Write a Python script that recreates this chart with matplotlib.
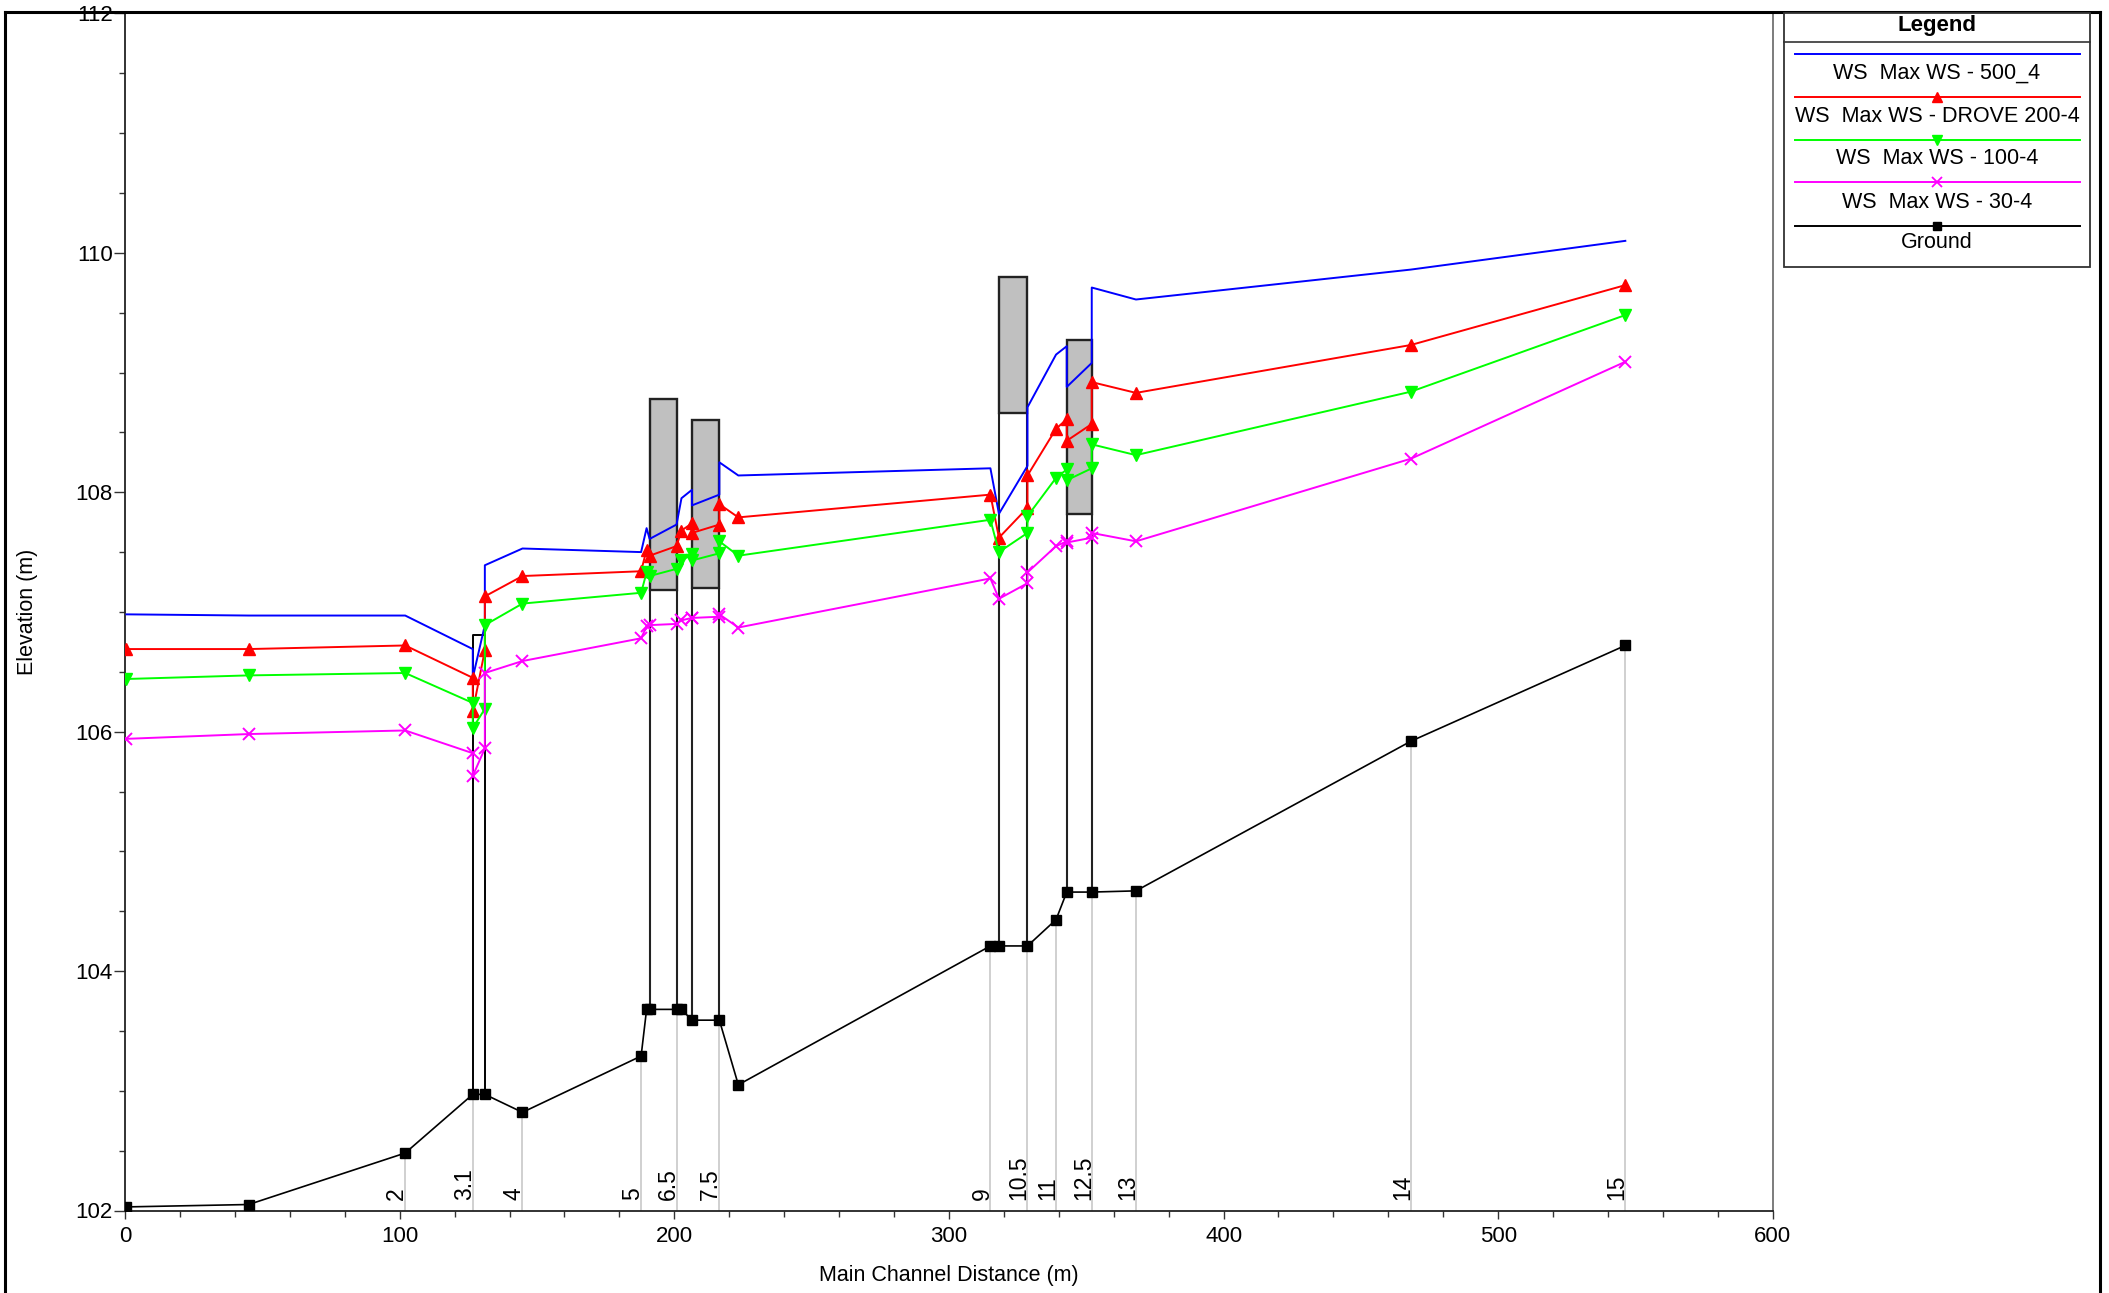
import matplotlib
matplotlib.use("Agg")
import matplotlib.pyplot as plt
import numpy as np
from matplotlib.patches import Rectangle
from matplotlib.lines import Line2D
import matplotlib.transforms as mtransforms

plt.rcParams['font.family'] = ['Liberation Sans', 'DejaVu Sans']

# ---------------- data ----------------
ws_x = [0.5, 45, 102, 126.6, 126.6, 131.0, 131.0, 144.7, 187.9, 189.9, 191.0, 200.8,
        202.6, 206.4, 206.4, 216.4, 216.4, 223.3, 315.1, 318.2, 328.6, 328.6, 339.0,
        342.9, 342.9, 352.0, 352.0, 368.1, 468.2, 546.3]

ws_500 = [106.98, 106.97, 106.97, 106.69, 106.45, 106.89, 107.39, 107.53, 107.50, 107.70,
          107.61, 107.73, 107.95, 108.02, 107.89, 107.98, 108.25, 108.14, 108.20, 107.82,
          108.22, 108.71, 109.15, 109.22, 108.88, 109.08, 109.71, 109.61, 109.86, 110.10]

ws_200 = [106.69, 106.69, 106.72, 106.45, 106.17, 106.68, 107.13, 107.30, 107.34, 107.52,
          107.47, 107.55, 107.68, 107.74, 107.66, 107.73, 107.90, 107.79, 107.98, 107.62,
          107.87, 108.14, 108.53, 108.61, 108.43, 108.57, 108.92, 108.83, 109.23, 109.73]

ws_100 = [106.44, 106.47, 106.49, 106.24, 106.03, 106.19, 106.89, 107.07, 107.16, 107.33,
          107.30, 107.36, 107.43, 107.48, 107.43, 107.49, 107.59, 107.47, 107.77, 107.50,
          107.66, 107.80, 108.12, 108.19, 108.10, 108.20, 108.40, 108.31, 108.84, 109.48]

ws_30 = [105.94, 105.98, 106.01, 105.82, 105.63, 105.86, 106.49, 106.59, 106.78, 106.88,
         106.89, 106.90, 106.93, 106.95, 106.95, 106.96, 106.98, 106.87, 107.28, 107.11,
         107.24, 107.33, 107.55, 107.59, 107.58, 107.62, 107.66, 107.59, 108.28, 109.09]

ground_x = [0.5, 45, 102, 126.6, 131.0, 144.7, 187.9, 189.9, 191.0, 200.8, 202.6, 206.4,
            216.4, 223.3, 315.1, 318.2, 328.6, 339.0, 342.9, 352.0, 368.1, 468.2, 546.3]
ground_y = [102.03, 102.05, 102.48, 102.97, 102.97, 102.82, 103.29, 103.68, 103.68, 103.68,
            103.68, 103.59, 103.59, 103.05, 104.21, 104.21, 104.21, 104.43, 104.66, 104.66,
            104.67, 105.92, 106.72]

section_labels = ['2', '3.1', '4', '5', '6.5', '7.5', '9', '10.5', '11', '12.5', '13', '14', '15']
section_x = [102, 126.6, 144.7, 187.9, 200.8, 216.4, 315.1, 328.6, 339.0, 352.0, 368.1, 468.2, 546.3]

culvert_x = [126.6, 131.0]
culvert_top = 106.81

bridge_left = [191.0, 206.4, 318.2, 342.9]
bridge_right = [200.8, 216.4, 328.6, 352.0]
deck_low = [107.18, 107.20, 108.66, 107.82]
deck_high = [108.78, 108.60, 109.80, 109.27]

legend_labels = ['WS  Max WS - 500_4', 'WS  Max WS - DROVE 200-4', 'WS  Max WS - 100-4',
                 'WS  Max WS - 30-4', 'Ground']

# ---------------- figure ----------------
W, H = 2109, 1293
fig = plt.figure(figsize=(W / 100, H / 100), dpi=100)
ax = fig.add_axes([125.1 / W, 1 - 1210.5 / H, (1772.8 - 125.1) / W, (1210.5 - 13.4) / H])

ax.set_xlim(0, 600)
ax.set_ylim(102, 112)

FS_TICK = 16
FS_LAB = 15.5

# section lines (grey) and labels
gx = np.array(ground_x)
gy = np.array(ground_y)
sec_ground = np.interp(section_x, gx, gy)
ax.vlines(section_x, 102, sec_ground, colors='#c8c8c8', lw=1.2, zorder=1)
lab_tr = mtransforms.offset_copy(ax.transData, fig=fig, x=3, y=10, units='dots')
for sx, lab in zip(section_x, section_labels):
    ax.text(sx, 102, lab, rotation=90, ha='right', va='bottom', fontsize=16.5,
            transform=lab_tr, zorder=5)

# culvert (open rectangle)
cg = np.interp(culvert_x, gx, gy)
ax.plot([culvert_x[0], culvert_x[0], culvert_x[1], culvert_x[1]],
        [cg[0], culvert_top, culvert_top, cg[1]], color='black', lw=1.4, zorder=2)

# bridges
for bl, br, lo, hi in zip(bridge_left, bridge_right, deck_low, deck_high):
    ax.add_patch(Rectangle((bl, lo), br - bl, hi - lo, facecolor='#c0c0c0',
                           edgecolor='#222222', lw=1.7, zorder=2))
    g = np.interp([bl, br], gx, gy)
    ax.vlines([bl, br], g, lo, colors='#222222', lw=1.5, zorder=2)

# ground
ax.plot(ground_x, ground_y, color='black', lw=1.2, marker='s', ms=6.5, zorder=4)

# water surfaces
ax.plot(ws_x, ws_500, color='#0000ff', lw=1.4, zorder=5)
ax.plot(ws_x, ws_200, color='#ff0000', lw=1.4, marker='^', ms=8.5, zorder=5)
ax.plot(ws_x, ws_100, color='#00ff00', lw=1.4, marker='v', ms=8.5, zorder=5)
ax.plot(ws_x, ws_30, color='#ff00ff', lw=1.4, marker='x', ms=8, mew=1.4, zorder=5)

# ticks
ax.set_xticks(np.arange(0, 601, 100))
ax.set_xticks(np.arange(0, 601, 20), minor=True)
ax.set_yticks(np.arange(102, 112.1, 2))
ax.set_yticks(np.arange(102, 112.1, 0.5), minor=True)
ax.set_yticklabels([str(v) for v in range(102, 113, 2)])
ax.tick_params(axis='both', which='major', labelsize=FS_TICK, direction='out', width=1,
               color='#333333')
ax.tick_params(axis='x', which='major', length=6, pad=5)
ax.tick_params(axis='x', which='minor', length=4, width=1, color='#333333')
ax.tick_params(axis='y', which='major', length=8, pad=1)
ax.tick_params(axis='y', which='minor', length=4, width=1, color='#333333')
for side in ['left', 'bottom', 'top']:
    ax.spines[side].set_color('#222222')
    ax.spines[side].set_linewidth(1.3)
ax.spines['right'].set_color('#666666')
ax.spines['right'].set_linewidth(1.2)

# axis labels
fig.text(949 / W, 1 - 1275 / H, 'Main Channel Distance (m)', ha='center', va='center',
         fontsize=FS_LAB)
fig.text(28 / W, 1 - 612 / H, 'Elevation (m)', ha='center', va='center', rotation=90,
         fontsize=FS_LAB)

# outer frame
def fx(x):
    return x / W

def fy(y):
    return 1 - y / H

frame_kw = dict(color='black', lw=2.2, transform=fig.transFigure, solid_capstyle='projecting')
fig.add_artist(Line2D([fx(5), fx(5)], [fy(12), fy(1300)], **frame_kw))
fig.add_artist(Line2D([fx(5), fx(2100)], [fy(12), fy(12)], **frame_kw))
fig.add_artist(Line2D([fx(2100), fx(2100)], [fy(12), fy(1300)], **frame_kw))

# legend (drawn manually)
lx0, lx1, ly0, ly1 = 1784, 2090, 12.7, 266.7
fig.add_artist(Rectangle((fx(lx0), fy(ly1)), (lx1 - lx0) / W, (ly1 - ly0) / H,
                         facecolor='white', edgecolor='#333333', lw=1.3,
                         transform=fig.transFigure, zorder=10))
fig.add_artist(Line2D([fx(lx0), fx(lx1)], [fy(41.7), fy(41.7)], color='#333333', lw=1.2,
                      transform=fig.transFigure, zorder=11))
fig.text(fx(1937), fy(26), 'Legend', ha='center', va='center', fontsize=16,
         fontweight='bold', zorder=12)
leg_styles = [dict(color='#0000ff'),
              dict(color='#ff0000', marker='^', ms=7.5),
              dict(color='#00ff00', marker='v', ms=7.5),
              dict(color='#ff00ff', marker='x', ms=7, mew=1.3),
              dict(color='black', marker='s', ms=6)]
line_y = [54, 97, 140, 182, 226]
text_y = [73, 117, 159, 202, 243]
for st, lyy, tyy, lab in zip(leg_styles, line_y, text_y, legend_labels):
    fig.add_artist(Line2D([fx(1795), fx(2080)], [fy(lyy), fy(lyy)], lw=1.4,
                          transform=fig.transFigure, zorder=12, color=st['color']))
    if 'marker' in st:
        fig.add_artist(Line2D([fx(1937)], [fy(lyy)], lw=0, transform=fig.transFigure,
                              zorder=13, **st))
    fig.text(fx(1937), fy(tyy), lab, ha='center', va='center', fontsize=FS_LAB, zorder=12)

fig.savefig('out.png', dpi=100)
